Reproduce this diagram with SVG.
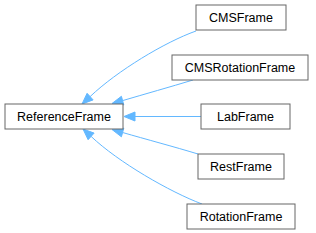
<svg xmlns="http://www.w3.org/2000/svg" width="316" height="233" viewBox="0 0 316 233">
<style>
.box{fill:#ffffff;stroke:#666666;stroke-width:1}
.lbl{font-family:"Liberation Sans",Arial,sans-serif;font-size:12.5px;fill:#000000;text-anchor:middle}
.edge{fill:none;stroke:#63b8ff;stroke-width:1}
.head{fill:#63b8ff;stroke:#63b8ff;stroke-width:1}
</style>
<rect width="316" height="233" fill="#ffffff"/>
<g id="connectors">
<path class="edge" d="M196,31 C165,42 117,71 90.1,96.6"/>
<polygon class="head" points="82,104 93.1,99.9 87.1,93.3"/>
<path class="edge" d="M193,80 C170,87 145,94 122.6,100.6"/>
<polygon class="head" points="112,103.5 123.8,104.9 121.4,96.3"/>
<path class="edge" d="M201,116.5 L135,116.5"/>
<polygon class="head" points="124,116.5 135,112 135,121"/>
<path class="edge" d="M198,154 C175,147 145,139 122.6,132.5"/>
<polygon class="head" points="112,129.5 123.8,128.2 121.4,136.8"/>
<path class="edge" d="M202,204 C170,192 118,162 91.1,136.4"/>
<polygon class="head" points="83,129 94.1,133.1 88.1,139.7"/>
</g>
<g id="ReferenceFrame">
<rect class="box" x="5" y="104" width="118" height="25"/>
<text class="lbl" x="64" y="121">ReferenceFrame</text>
</g>
<g id="CMSFrame">
<rect class="box" x="196" y="5" width="90" height="25"/>
<text class="lbl" x="241" y="22">CMSFrame</text>
</g>
<g id="CMSRotationFrame">
<rect class="box" x="172" y="55" width="136" height="25"/>
<text class="lbl" x="240" y="72">CMSRotationFrame</text>
</g>
<g id="LabFrame">
<rect class="box" x="201" y="104" width="89" height="25"/>
<text class="lbl" x="245.5" y="121">LabFrame</text>
</g>
<g id="RestFrame">
<rect class="box" x="198" y="154" width="86" height="25"/>
<text class="lbl" x="241" y="171">RestFrame</text>
</g>
<g id="RotationFrame">
<rect class="box" x="187" y="204" width="108" height="25"/>
<text class="lbl" x="241" y="221">RotationFrame</text>
</g>
</svg>
